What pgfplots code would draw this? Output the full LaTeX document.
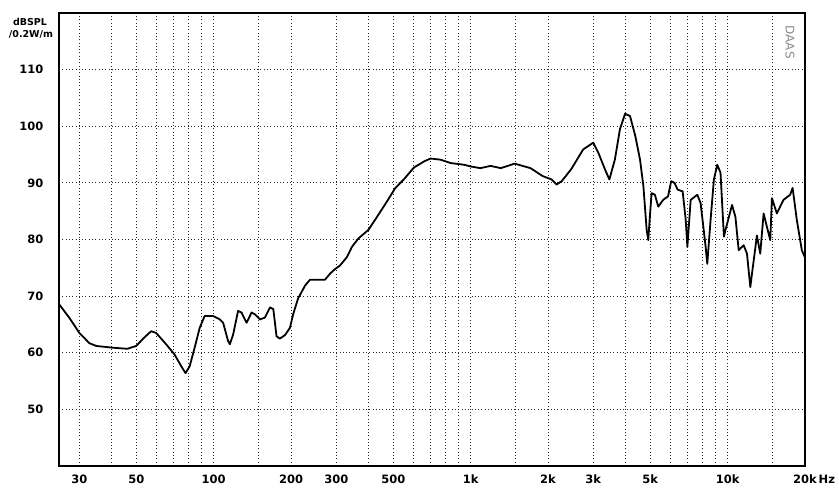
\documentclass[border=0pt]{standalone}
\usepackage{fontspec}
\setmainfont{DejaVu Sans}
\usepackage{pgfplots}
\pgfplotsset{compat=1.18}

\pgfplotstableread{
f db
25 68.6
27.4 66.2
30 63.5
32.8 61.7
34.9 61.2
40.3 60.9
46.1 60.7
49.9 61.2
54 62.8
57.1 63.8
59.7 63.5
65.3 61.5
70.4 59.7
74.8 57.6
77.7 56.4
80.6 57.6
84.3 60.9
88.2 64.4
92.2 66.5
99.4 66.5
105.5 65.9
108.8 65.3
113.7 62.1
115.5 61.5
119 63.2
124.4 67.4
128.3 67.1
134.2 65.3
140.4 67.1
144.6 66.8
151.3 65.9
158.2 66.2
165.5 68.0
170.6 67.7
175.6 62.9
180.9 62.5
189.3 63.1
198 64.4
203.8 66.8
213 69.6
227 71.9
237 72.9
271 72.9
284 74.0
297 74.8
310 75.4
330 76.9
345 78.7
366 80.2
400 81.7
432 84.0
472 86.7
509 89.1
549 90.6
601 92.7
659 93.8
698 94.3
763 94.1
836 93.5
942 93.2
1000 92.9
1091 92.6
1195 93.0
1310 92.6
1482 93.4
1710 92.6
1906 91.2
2065 90.6
2160 89.7
2260 90.3
2460 92.4
2740 95.9
3000 97.1
3140 95.3
3330 92.4
3465 90.6
3640 94.1
3810 99.5
3990 102.2
4170 101.8
4370 98.3
4560 94.1
4700 89.4
4840 81.7
4910 79.9
4990 84.6
5060 88.2
5210 87.9
5370 85.8
5610 87.0
5860 87.6
6030 90.3
6210 90.0
6390 88.8
6680 88.5
6870 83.4
6970 78.7
7180 87.0
7620 87.9
7850 86.4
8210 78.7
8330 75.7
8580 83.4
8840 90.6
9110 93.2
9380 91.8
9670 80.5
9810 81.7
10400 86.1
10720 84.0
11040 78.1
11370 78.7
11540 79.0
11890 77.5
12250 71.6
12430 73.9
13000 80.7
13390 77.5
13800 84.6
14220 82.2
14650 79.9
14870 87.3
15540 84.6
16490 87.0
17510 87.9
17900 89.1
18590 83.4
19440 78.1
20000 76.8
}\spl

\begin{document}
\begin{tikzpicture}
\begin{axis}[
  at={(0,0)}, anchor=south west,
  scale only axis,
  width=746pt, height=453pt,
  xmode=log,
  xmin=25, xmax=20000,
  ymin=40, ymax=120,
  xtick={30,50,100,200,300,500,1000,2000,3000,5000,10000,20000},
  xticklabels={30,50,100,200,300,500,1k,2k,3k,5k,10k,20k\rlap{\,Hz}},
  minor xtick={40,60,70,80,90,150,400,600,700,800,900,1500,4000,6000,7000,8000,9000,15000},
  ytick={50,60,70,80,90,100,110},
  yticklabels={50,60,70,80,90,100,110},
  major tick length=0pt, minor tick length=0pt,
  grid=both,
  major grid style={black!85, line width=1pt, dash pattern=on 1pt off 2.3pt},
  minor grid style={black!85, line width=1pt, dash pattern=on 1pt off 2.3pt},
  axis line style={black, line width=1.8pt},
  ticklabel style={font=\fontsize{11.5}{12}\selectfont\bfseries, inner sep=0pt},
  xticklabel style={anchor=north, yshift=-9pt},
  yticklabel style={anchor=east, xshift=-15.5pt},
]
\addplot[black, line width=1.8pt, line join=round] table[x=f, y=db] {\spl};
\end{axis}
\node[font=\fontsize{9.5}{10}\selectfont\bfseries, inner sep=0pt] at (-29pt,444.5pt) {dBSPL};
\node[font=\fontsize{9.5}{10}\selectfont\bfseries, inner sep=0pt] at (-28pt,432pt) {/0.2W/m};
\node[font=\fontsize{12}{12}\selectfont, text=black!45, rotate=-90, inner sep=0pt] at (731pt,424pt) {DAAS};
\pgfresetboundingbox
\useasboundingbox (-59pt,-29pt) rectangle (780pt,466pt);
\end{tikzpicture}
\end{document}
